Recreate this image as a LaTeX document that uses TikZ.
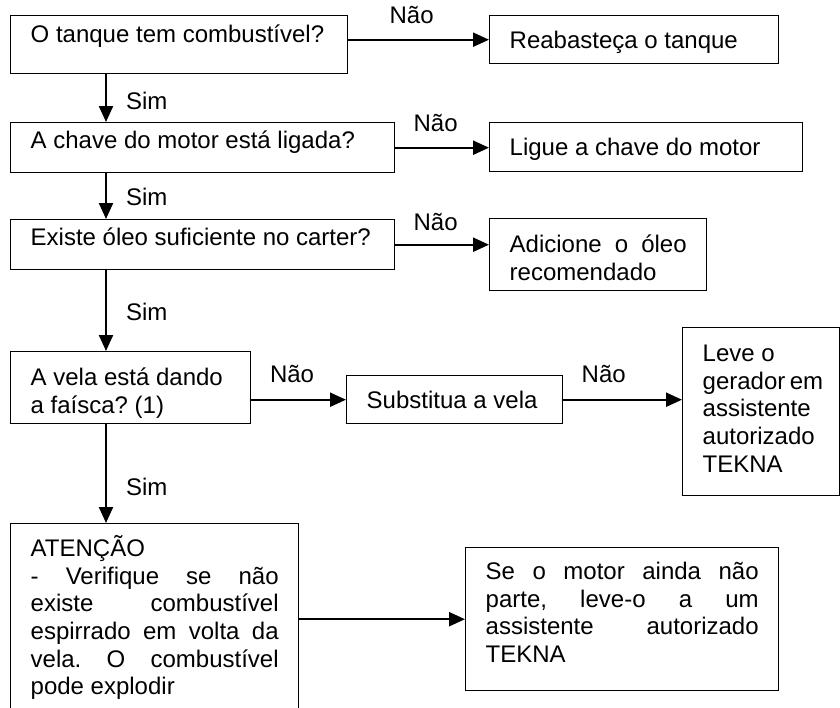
\documentclass[tikz,border=0pt]{standalone}
\usepackage{fontspec}
\setmainfont{Liberation Sans}
\usetikzlibrary{arrows.meta}
\tikzset{
	caixa/.style={draw,line width=1.4pt,anchor=north west,inner xsep=20pt,inner ysep=0pt,align=flush left,font=\fontsize{24}{27.6}\selectfont},
	seta/.style={line width=2.2pt,-{Triangle[length=16pt,width=14pt]}},
	rotulo/.style={inner sep=0pt,font=\fontsize{24}{27.6}\selectfont}
}
\hbadness=10000
\hfuzz=20pt
\frenchspacing
\begin{document}
\begin{tikzpicture}[x=1pt,y=1pt]
	\clip (0,0) rectangle (840,-707);
	\coordinate (eixo) at (106,0);
	\node[caixa,text width=297pt,text height=27pt,text depth=31pt] (tanque) at (10,-15) {O tanque tem combustível?};
	\node[caixa,text width=249pt,text height=33pt,text depth=15pt] (reabast) at (489,-15) {Reabasteça o tanque};
	\node[caixa,text width=344pt,text height=26pt,text depth=24pt] (chave) at (10,-122) {A chave do motor está ligada?};
	\node[caixa,text width=273pt,text height=33pt,text depth=16pt] (ligue) at (489,-122) {Ligue a chave do motor};
	\node[caixa,text width=344pt,text height=26pt,text depth=24pt] (oleo) at (10,-219) {Existe óleo suficiente no carter?};
	\node[caixa,text width=177pt,text height=34pt,text depth=38pt,align=justify] (adicione) at (489,-218) {Adicione o óleo\linebreak recomendado};
	\node[caixa,text width=200pt,text height=34pt,text depth=38pt] (vela) at (10,-351) {A vela está dando\\a faísca? (1)};
	\node[caixa,text width=176pt,text height=33pt,text depth=15pt] (subst) at (346,-375) {Substitua a vela};
	\node[caixa,text width=117pt,text height=34pt,text depth=134pt] (leve) at (682,-327) {Leve o\\gerador~em\\assistente\\autorizado\\TEKNA};
	\node[caixa,text width=248pt,text height=33pt,text depth=185pt,align=justify] (atencao) at (10,-523) {ATENÇÃO\\- Verifique se não\linebreak existe combustível\linebreak espirrado em volta da\linebreak vela. O combustível\linebreak pode explodir};
	\node[caixa,text width=273pt,text height=32pt,text depth=111pt,align=justify] (motor) at (465,-547) {Se o motor ainda não\linebreak parte, leve-o a um\linebreak assistente autorizado\linebreak TEKNA};
	\foreach \de/\para/\onde in {tanque/chave/0.55,chave/oleo/0.52,oleo/vela/0.51,vela/atencao/0.63}
		\draw[seta] (\de.south -| eixo) -- (\para.north -| eixo) node[rotulo,right=19pt,pos=\onde] {Sim};
	\draw[seta] (tanque.east |- reabast.west) -- (reabast.west) node[rotulo,above=15pt,pos=0.45] {Não};
	\draw[seta] (chave.east) -- (ligue.west |- chave.east) node[rotulo,above=15pt,pos=0.43] {Não};
	\draw[seta] (oleo.east) -- (adicione.west |- oleo.east) node[rotulo,above=13pt,pos=0.43] {Não};
	\draw[seta] (vela.east |- subst.west) -- (subst.west) node[rotulo,above=16pt,pos=0.43] {Não};
	\draw[seta] (subst.east) -- (leve.west |- subst.east) node[rotulo,above=16pt,pos=0.34] {Não};
	\draw[seta] (atencao.east |- motor.west) -- (motor.west);
\end{tikzpicture}
\end{document}
